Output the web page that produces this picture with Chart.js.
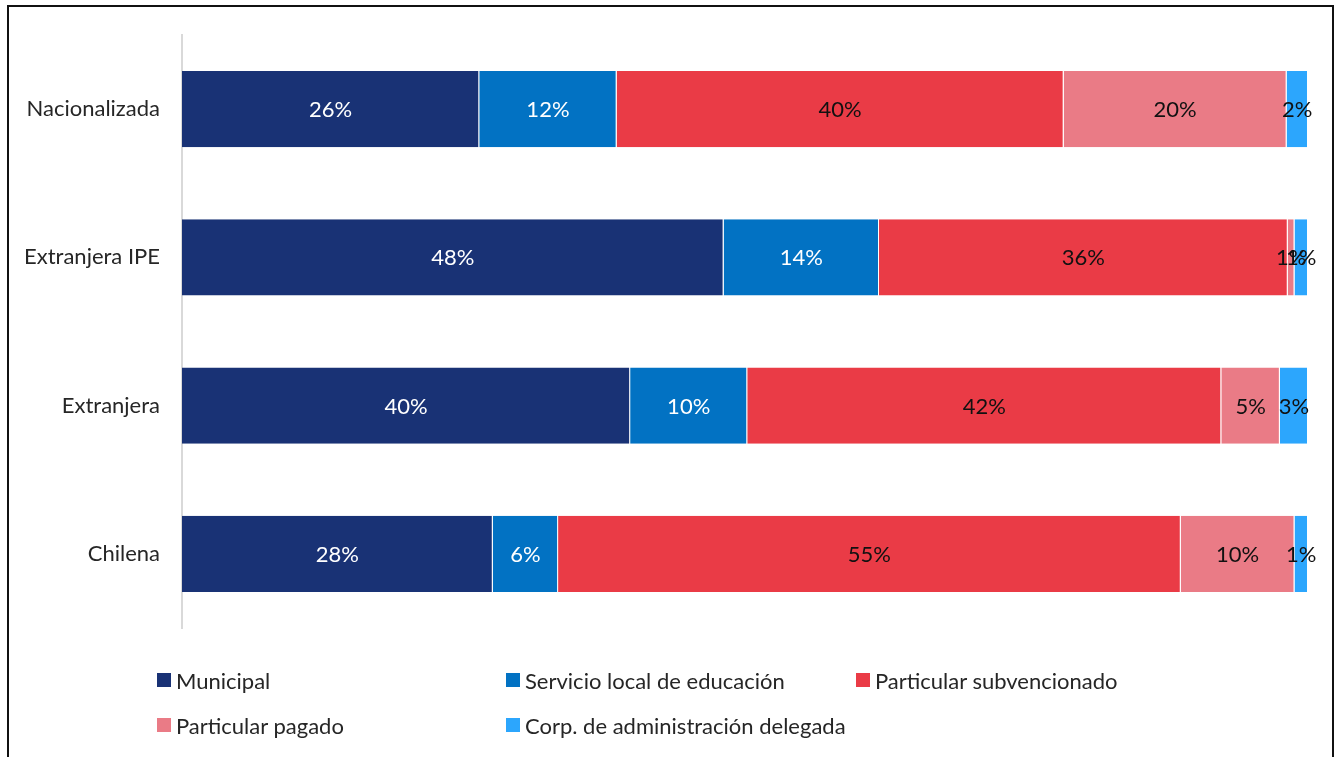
<!DOCTYPE html>
<html>
<head>
<meta charset="utf-8">
<script src="https://cdn.jsdelivr.net/npm/chart.js@4"></script>
<style>
    html, body { margin: 0; padding: 0; background: white; }
    body { width: 1339px; height: 757px; position: relative; overflow: hidden; font-family: Lato, "Open Sans", sans-serif; }
    .frame { position: absolute; left: 7px; top: 5px; width: 1327px; height: 800px; border: 2px solid #111; box-sizing: border-box; }
    .chart-box { position: absolute; left: 0; top: 0; width: 1339px; height: 757px; }
    .legend-item { position: absolute; display: flex; align-items: center; font-size: 22px; color: #262626; height: 24px; }
    .legend-item .swatch { width: 14px; height: 14px; margin-right: 5px; }
</style>
</head>
<body>
<div class="frame"></div>
<div class="chart-box"><canvas id="chart"></canvas></div>
<div id="legend"></div>
<script>
// categories, top to bottom
const categories = ['Nacionalizada', 'Extranjera IPE', 'Extranjera', 'Chilena'];

// share of enrolment by school type (%)
const municipal = [26.4, 48.1, 39.8, 27.6];
const servicioLocal = [12.2, 13.8, 10.4, 5.8];
const particularSubv = [39.7, 36.3, 42.1, 55.3];
const particularPagado = [19.8, 0.6, 5.2, 10.1];
const corpDelegada = [1.9, 1.2, 2.5, 1.2];

const seriesNames = ['Municipal', 'Servicio local de educación', 'Particular subvencionado', 'Particular pagado', 'Corp. de administración delegada'];
const seriesColors = ['#193275', '#0272c3', '#ea3b46', '#ea7b86', '#2ca6fd'];
const labelColors = ['#ffffff', '#ffffff', '#111111', '#111111', '#111111'];

const datasets = [municipal, servicioLocal, particularSubv, particularPagado, corpDelegada].map((d, i) => ({
    label: seriesNames[i],
    data: d,
    backgroundColor: seriesColors[i],
    borderColor: '#ffffff',
    borderWidth: { left: 0, right: 1, top: 0, bottom: 0 },
    borderSkipped: false,
    categoryPercentage: 0.72,
    barPercentage: 0.714
}));

// inline value labels (no datalabels plugin available)
const valueLabels = {
    id: 'valueLabels',
    afterDatasetsDraw(chart) {
        const ctx = chart.ctx;
        ctx.save();
        ctx.font = '22px Lato, "Open Sans", sans-serif';
        ctx.textAlign = 'center';
        ctx.textBaseline = 'middle';
        chart.data.datasets.forEach((ds, i) => {
            const meta = chart.getDatasetMeta(i);
            meta.data.forEach((bar, j) => {
                const v = ds.data[j];
                const cx = (bar.x + bar.base) / 2;
                ctx.fillStyle = labelColors[i];
                ctx.fillText(Math.round(v) + '%', cx, bar.y + 1);
            });
        });
        ctx.restore();
    }
};

new Chart(document.getElementById('chart'), {
    type: 'bar',
    data: { labels: categories, datasets: datasets },
    options: {
        indexAxis: 'y',
        responsive: true,
        maintainAspectRatio: false,
        animation: false,
        layout: { padding: { left: 0, right: 31, top: 35, bottom: 129 } },
        plugins: {
            legend: { display: false },
            tooltip: { enabled: false }
        },
        scales: {
            x: {
                stacked: true,
                min: 0,
                max: 100,
                display: false
            },
            y: {
                stacked: true,
                grid: { display: false },
                border: { color: '#d9d9d9', width: 2 },
                ticks: {
                    color: '#262626',
                    font: { size: 22, family: 'Lato, "Open Sans", sans-serif' },
                    padding: 14
                },
                afterFit: scale => { scale.width = 182; }
            }
        }
    },
    plugins: [valueLabels]
});

// legend laid out in three columns like the original
const legendPos = [[157, 668], [506, 668], [856, 668], [157, 713], [506, 713]];
const legend = document.getElementById('legend');
seriesNames.forEach((name, i) => {
    const item = document.createElement('div');
    item.className = 'legend-item';
    item.style.left = legendPos[i][0] + 'px';
    item.style.top = legendPos[i][1] + 'px';
    item.innerHTML = `<span class="swatch" style="background:${seriesColors[i]}"></span><span>${name}</span>`;
    legend.appendChild(item);
});
</script>
</body>
</html>
